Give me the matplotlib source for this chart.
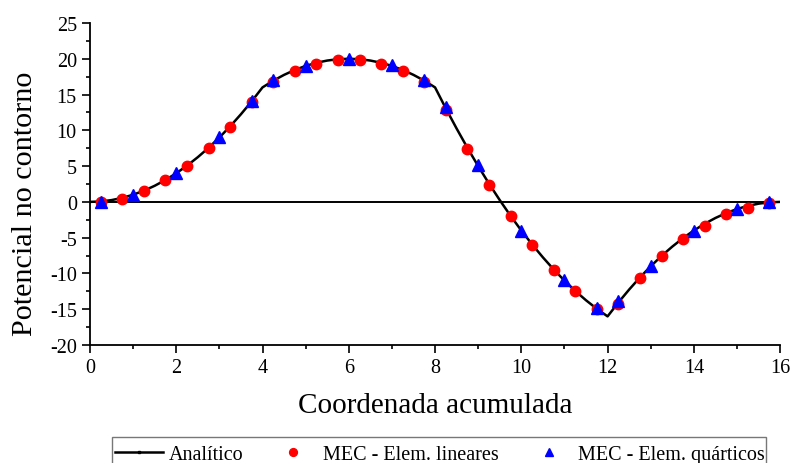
import matplotlib
matplotlib.use("Agg")
import matplotlib.pyplot as plt
from matplotlib.ticker import MultipleLocator
from matplotlib.lines import Line2D
from matplotlib.patches import Rectangle

plt.rcParams['font.family'] = ['Liberation Serif', 'DejaVu Serif']

# analytic solution along the boundary
s_analit = [0, 0.25, 0.5, 0.75, 1, 1.25, 1.5, 1.75, 2, 2.25, 2.5, 2.75, 3, 3.25, 3.5, 3.75, 4,
            4.25, 4.5, 4.75, 5, 5.25, 5.5, 5.75, 6, 6.25, 6.5, 6.75, 7, 7.25, 7.5, 7.75, 8,
            8.25, 8.5, 8.75, 9, 9.25, 9.5, 9.75, 10, 10.25, 10.5, 10.75, 11, 11.25, 11.5, 11.75, 12,
            12.25, 12.5, 12.75, 13, 13.25, 13.5, 13.75, 14, 14.25, 14.5, 14.75, 15, 15.25, 15.5, 15.75, 16]
u_analit = [0, 0.06, 0.25, 0.56, 1.0, 1.56, 2.25, 3.06, 4.0, 5.06, 6.25, 7.56, 9.0, 10.56, 12.25, 14.06, 16.0,
            16.94, 17.75, 18.44, 19.0, 19.44, 19.75, 19.94, 20.0, 19.94, 19.75, 19.44, 19.0, 18.44, 17.75, 16.94, 16.0,
            13.06, 10.25, 7.56, 5.0, 2.56, 0.25, -1.94, -4.0, -5.94, -7.75, -9.44, -11.0, -12.44, -13.75, -14.94, -16.0,
            -14.06, -12.25, -10.56, -9.0, -7.56, -6.25, -5.06, -4.0, -3.06, -2.25, -1.56, -1.0, -0.56, -0.25, -0.06, 0.0]

# BEM - linear elements
s_lin = [0.25, 0.75, 1.25, 1.75, 2.25, 2.75, 3.25, 3.75, 4.25, 4.75, 5.25, 5.75, 6.25, 6.75, 7.25, 7.75,
         8.25, 8.75, 9.25, 9.75, 10.25, 10.75, 11.25, 11.75, 12.25, 12.75, 13.25, 13.75, 14.25, 14.75, 15.25, 15.75]
u_lin = [0.0, 0.4, 1.5, 3.0, 5.0, 7.5, 10.5, 13.9, 16.8, 18.3, 19.3, 19.8, 19.8, 19.3, 18.3, 16.7,
         12.9, 7.4, 2.4, -2.0, -6.0, -9.5, -12.5, -15.0, -14.2, -10.6, -7.6, -5.2, -3.3, -1.7, -0.8, -0.2]

# BEM - quartic elements
s_quar = [0.25, 1, 2, 3, 3.75, 4.25, 5, 6, 7, 7.75, 8.25, 9, 10, 11, 11.75, 12.25, 13, 14, 15, 15.75]
u_quar = [0.0, 1.0, 4.0, 9.0, 14.1, 17.0, 19.0, 20.0, 19.1, 17.0, 13.2, 5.1, -4.0, -10.9, -14.8, -13.9, -8.9, -4.0, -1.0, 0.0]

fig = plt.figure(figsize=(7.92, 4.64), dpi=100)
ax = fig.add_axes([0.1136, 0.2543, 0.8714, 0.6940])

ax.axhline(0, color='black', lw=1.4, zorder=1)
ax.plot(s_analit, u_analit, color='black', lw=1.8, zorder=2, label='Analítico')
ax.plot(s_lin, u_lin, 'o', color='red', markersize=7.5, zorder=3, label='MEC - Elem. lineares')
ax.plot(s_quar, u_quar, '^', color='blue', markersize=8, zorder=4, label='MEC - Elem. quárticos')

ax.set_xlim(0, 16)
ax.set_ylim(-20, 25)
ax.xaxis.set_major_locator(MultipleLocator(2))
ax.xaxis.set_minor_locator(MultipleLocator(1))
ax.yaxis.set_major_locator(MultipleLocator(5))
ax.yaxis.set_minor_locator(MultipleLocator(2.5))
ax.spines['top'].set_visible(False)
ax.spines['right'].set_visible(False)
ax.spines['left'].set_linewidth(1.3)
ax.spines['bottom'].set_linewidth(1.3)
ax.tick_params(which='major', direction='out', length=6, width=1.2, labelsize=14.5)
ax.tick_params(which='minor', direction='out', length=3, width=1.2)
ax.yaxis.set_major_formatter(plt.FuncFormatter(lambda v, p: f"{int(v)}"))

ax.set_xlabel('Coordenada acumulada', fontsize=21)
ax.set_ylabel('Potencial no contorno', fontsize=21.7)
ax.xaxis.set_label_coords(0.5, -0.145)
ax.yaxis.set_label_coords(-0.075, 0.4425)

# legend without frame, frame drawn separately (cut by the figure bottom)
handles, labels = ax.get_legend_handles_labels()
handles[0] = Line2D([], [], color='black', lw=1.8, marker='s', markersize=2.5)
leg = fig.legend(handles, labels, ncol=3, loc='upper left',
                 bbox_to_anchor=(112 / 792, 1 - 443 / 464),
                 fontsize=14.5, frameon=False,
                 handlelength=2.4, handletextpad=0.25, borderpad=0.15,
                 borderaxespad=0, columnspacing=1.3, markerscale=0.75)
fig.patches.append(Rectangle((112 / 792, -0.05), (766 - 112) / 792, (464 - 438) / 464 + 0.05,
                             transform=fig.transFigure, fill=False,
                             edgecolor='#777777', lw=1.0))

fig.savefig('out.png', dpi=100)
